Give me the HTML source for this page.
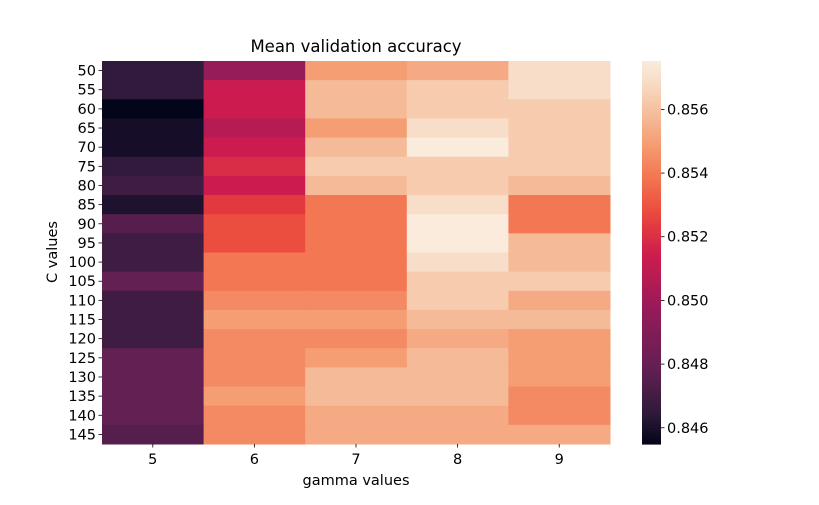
<!DOCTYPE html>
<html><head><meta charset="utf-8"><style>
body{margin:0;background:#fff;}
svg text{font-family:"DejaVu Sans","Liberation Sans",sans-serif;fill:#000;}
</style></head><body>
<svg id="chart" width="819" height="500" xmlns="http://www.w3.org/2000/svg">
<rect width="819" height="500" fill="#fff"/>
<text x="356" y="52" font-size="16.5" text-anchor="middle">Mean validation accuracy</text>
<text x="356" y="485" font-size="14.5" text-anchor="middle">gamma values</text>
<text x="57" y="252" font-size="14.5" text-anchor="middle" transform="rotate(-90 57 252)">C values</text>
<g id="cells"></g><g id="yt"></g><g id="xt"></g><g id="cb"></g><g id="cbt"></g>
</svg>
<script>
const gammaLabels = ["5","6","7","8","9"];
const cLabels = ["50","55","60","65","70","75","80","85","90","95","100","105","110","115","120","125","130","135","140","145"];
const accuracy = [
[0.8465,0.8497,0.8549,0.8553,0.8569],
[0.8465,0.8514,0.8558,0.8563,0.8569],
[0.8455,0.8514,0.8558,0.8563,0.8563],
[0.8459,0.8507,0.8549,0.8569,0.8563],
[0.8459,0.8514,0.8558,0.8575,0.8563],
[0.8465,0.8519,0.8563,0.8563,0.8563],
[0.8469,0.8514,0.8558,0.8563,0.8558],
[0.8461,0.8523,0.8539,0.8569,0.8539],
[0.8475,0.8528,0.8539,0.8575,0.8539],
[0.8469,0.8528,0.8539,0.8575,0.8558],
[0.8469,0.8539,0.8539,0.8569,0.8558],
[0.8479,0.8539,0.8539,0.8563,0.8563],
[0.8469,0.8544,0.8544,0.8563,0.8553],
[0.8469,0.8549,0.8549,0.8558,0.8558],
[0.8469,0.8544,0.8544,0.8553,0.8549],
[0.8479,0.8544,0.8549,0.8558,0.8549],
[0.8479,0.8544,0.8558,0.8558,0.8549],
[0.8479,0.8549,0.8558,0.8558,0.8544],
[0.8479,0.8544,0.8553,0.8553,0.8544],
[0.8475,0.8544,0.8553,0.8553,0.8553]
];
const cbTicks = [0.846,0.848,0.850,0.852,0.854,0.856];
const vmin = 0.84549, vmax = 0.85752;

const NS="http://www.w3.org/2000/svg";
const L=102,R=610,T=61,B=444;
const stops=[[0,[3,5,26]],[0.08,[47,26,59]],[0.2,[99,32,82]],[0.35,[149,27,89]],[0.49,[204,28,79]],[0.57,[227,58,64]],[0.61,[235,78,62]],[0.7,[243,119,83]],[0.78,[245,156,114]],[0.86,[245,188,154]],[0.95,[248,222,201]],[1,[250,235,221]]];
function cmap(v){let t=Math.max(0,Math.min(1,(v-vmin)/(vmax-vmin)));
 for(let i=1;i<stops.length;i++){if(t<=stops[i][0]){const a=stops[i-1],b=stops[i],f=(t-a[0])/(b[0]-a[0]);
  return "rgb("+a[1].map((c,k)=>Math.round(c+(b[1][k]-c)*f)).join(",")+")";}}
 return "rgb(250,235,221)";}
const cw=(R-L)/gammaLabels.length, ch=(B-T)/cLabels.length;
function xPos(i){return L+i*cw;} function yPos(j){return T+j*ch;}
function mk(tag,attrs,parent){const e=document.createElementNS(NS,tag);for(const k in attrs)e.setAttribute(k,attrs[k]);parent.appendChild(e);return e;}
const cells=document.getElementById('cells');
accuracy.forEach((row,j)=>row.forEach((v,i)=>{
 const r=mk('rect',{x:xPos(i),y:yPos(j),width:cw+0.5,height:ch+0.5,fill:cmap(v)},cells);
 
 
}));
const yt=document.getElementById('yt');
cLabels.forEach((l,j)=>{const y=yPos(j)+ch/2;
 mk('line',{x1:L-3.5,x2:L,y1:y,y2:y,stroke:'#000','stroke-width':0.8},yt);
 const t=mk('text',{x:L-6,y:y+5,'font-size':14.5,'text-anchor':'end'},yt);t.textContent=l;
 
 
});
const xt=document.getElementById('xt');
gammaLabels.forEach((l,i)=>{const x=xPos(i)+cw/2;
 mk('line',{x1:x,x2:x,y1:B,y2:B+3.5,stroke:'#000','stroke-width':0.8},xt);
 const t=mk('text',{x:x,y:B+20,'font-size':14.5,'text-anchor':'middle'},xt);t.textContent=l;
 
 
});
const cb=document.getElementById('cb');const CX=642,CW=19,N=120;
for(let k=0;k<N;k++){const v=vmax-(k+0.5)/N*(vmax-vmin);
 mk('rect',{x:CX,y:T+k*(B-T)/N,width:CW,height:(B-T)/N+0.6,fill:cmap(v)},cb);}


const cbt=document.getElementById('cbt');
function cy(v){return B-(v-vmin)/(vmax-vmin)*(B-T);}
cbTicks.forEach(v=>{const y=cy(v);
 mk('line',{x1:CX+CW,x2:CX+CW+3.5,y1:y,y2:y,stroke:'#000','stroke-width':0.8},cbt);
 const t=mk('text',{x:CX+CW+6,y:y+5,'font-size':14.5},cbt);t.textContent=v.toFixed(3);
 
 
});
</script>
</body></html>
